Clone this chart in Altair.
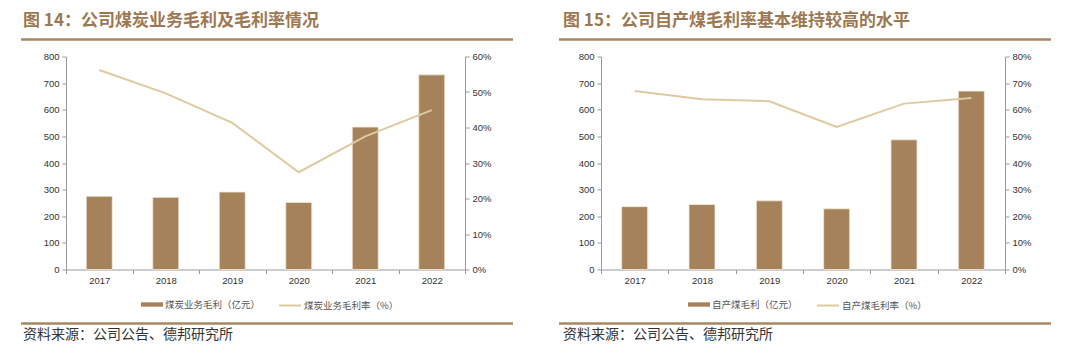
import altair as alt
import pandas as pd

years = ["2017", "2018", "2019", "2020", "2021", "2022"]
coal_profit = [275, 271, 291, 252, 535, 731]          # 煤炭业务毛利（亿元）
coal_margin = [56.2, 49.6, 41.3, 27.4, 37.5, 44.9]    # 煤炭业务毛利率（%）
own_profit = [236, 244, 258, 228, 487, 670]           # 自产煤毛利（亿元）
own_margin = [67.0, 63.9, 63.2, 53.5, 62.3, 64.4]     # 自产煤毛利率（%）

title_left = "图 14：公司煤炭业务毛利及毛利率情况"
title_right = "图 15：公司自产煤毛利率基本维持较高的水平"
bar_label_left = "煤炭业务毛利（亿元）"
line_label_left = "煤炭业务毛利率（%）"
bar_label_right = "自产煤毛利（亿元）"
line_label_right = "自产煤毛利率（%）"
source_text = "资料来源：公司公告、德邦研究所"

BAR = "#A6825A"
LINE = "#DFC9A0"
SEP = "#A88660"
TITLE_C = "#9C7852"
CJK = "Noto Sans CJK SC"


def panel(profit, margin, bar_label, line_label, title, mmax, w, h, lx_bar, lx_line, dx_text, sep_x1, sep_x2):
    df = pd.DataFrame({
        "year": years,
        "profit": profit,
        "margin": margin,
        "bar_series": [bar_label] * len(years),
        "line_series": [line_label] * len(years),
    })
    base = alt.Chart(df).encode(
        x=alt.X("year:N", sort=years,
                scale=alt.Scale(paddingInner=0, paddingOuter=0),
                axis=alt.Axis(title=None, labelAngle=0, tickBand="extent",
                              labelPadding=2, ticks=True))
    )
    leg_y = h + 24
    bars = base.mark_bar(size=26, stroke="#F3EADC", strokeWidth=0.8).encode(
        y=alt.Y("profit:Q", scale=alt.Scale(domain=[0, 800], nice=False),
                axis=alt.Axis(title=None, values=list(range(0, 801, 100)), labelPadding=3)),
        color=alt.Color("bar_series:N",
                        scale=alt.Scale(domain=[bar_label], range=[BAR]),
                        legend=alt.Legend(orient="none", legendX=lx_bar, legendY=leg_y,
                                          title=None, padding=0,
                                          symbolType="M-1,-0.2L1,-0.2L1,0.2L-1,0.2Z",
                                          symbolSize=484, symbolStrokeWidth=0,
                                          labelFont=CJK, labelFontSize=9.5, labelColor="#555",
                                          labelOffset=2)),
    )
    line = base.mark_line(strokeWidth=2).encode(
        y=alt.Y("margin:Q", scale=alt.Scale(domain=[0, mmax], nice=False),
                axis=alt.Axis(title=None, orient="right",
                              values=list(range(0, mmax + 1, 10)),
                              labelExpr="datum.value + '%'", labelPadding=3)),
        stroke=alt.Stroke("line_series:N",
                          scale=alt.Scale(domain=[line_label], range=[LINE]),
                          legend=alt.Legend(orient="none", legendX=lx_line, legendY=leg_y,
                                            title=None, padding=0, symbolType="stroke",
                                            symbolSize=484, symbolStrokeWidth=2,
                                            labelFont=CJK, labelFontSize=9.5, labelColor="#555",
                                            labelOffset=2)),
    )
    one = alt.Chart(pd.DataFrame({"k": [0]}))
    ttl = one.mark_text(align="left", baseline="middle", font=CJK, fontSize=17,
                        fontWeight="bold", color=TITLE_C).encode(
        x=alt.value(dx_text), y=alt.value(-36), text=alt.value(title))
    sep_top = one.mark_rule(color=SEP, strokeWidth=2.5).encode(
        x=alt.value(sep_x1), x2=alt.value(sep_x2), y=alt.value(-17))
    sep_bot = one.mark_rule(color=SEP, strokeWidth=2.5).encode(
        x=alt.value(sep_x1), x2=alt.value(sep_x2), y=alt.value(h + 54))
    src = one.mark_text(align="left", baseline="middle", font=CJK, fontSize=14,
                        color="#333").encode(
        x=alt.value(dx_text), y=alt.value(h + 65), text=alt.value(source_text))
    return alt.layer(bars, line, ttl, sep_top, sep_bot, src).resolve_scale(
        y="independent").properties(width=w, height=h)


left = panel(coal_profit, coal_margin, bar_label_left, line_label_left, title_left,
             60, 399, 213, 75, 212, -43, -45, 447)
right = panel(own_profit, own_margin, bar_label_right, line_label_right, title_right,
              80, 404, 213, 87, 215, -38, -42, 450)

chart = alt.hconcat(left, right, spacing=42).resolve_scale(
    x="independent", y="independent", color="independent", stroke="independent"
).properties(
    padding={"left": 19, "top": 11.5, "right": 0, "bottom": 0},
    background="white",
).configure_view(stroke=None).configure_axis(
    labelFont="Liberation Sans", labelFontSize=9.5, labelColor="#333",
    domainColor="#999", tickColor="#999", tickSize=4, grid=False,
)

chart.save("out.html", embed_options={"renderer": "svg", "actions": False})
